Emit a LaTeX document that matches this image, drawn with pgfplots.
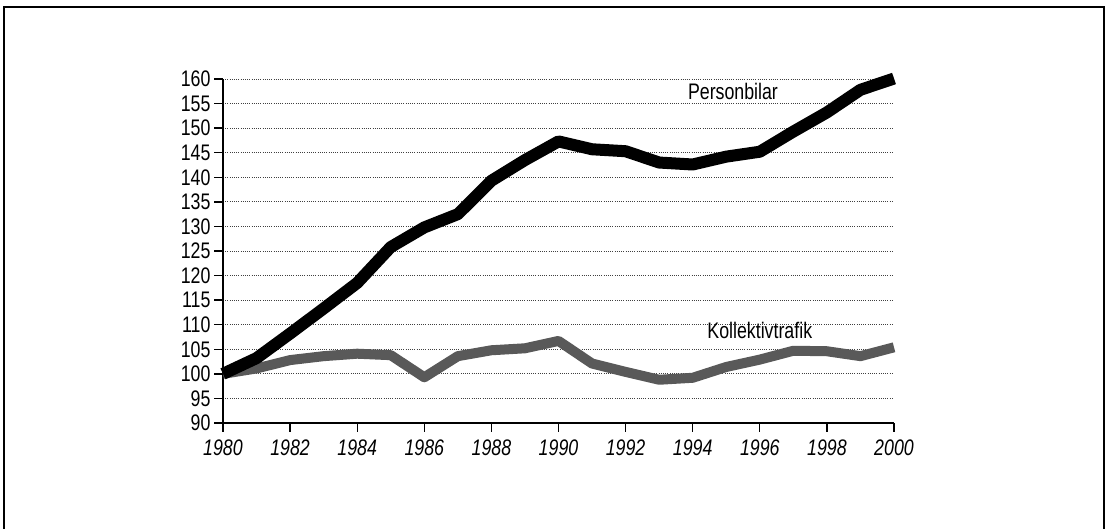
\documentclass[border=0pt]{standalone}
\usepackage{fontspec}
\setmainfont{Liberation Sans}[FakeStretch=0.79]
\usepackage{pgfplots}
\pgfplotsset{compat=1.18}
\begin{document}
\begin{tikzpicture}[x=1pt,y=1pt,font=\fontsize{22.5}{27}\selectfont]
\path[use as bounding box] (0,0) rectangle (1108,529);
\draw[line width=1.6pt] (4,0) -- (4,522) -- (1104,522) -- (1104,0);
\begin{axis}[
  at={(223pt,106pt)}, anchor=south west,
  scale only axis, width=671pt, height=344pt,
  xmin=1980, xmax=2000, ymin=90, ymax=160,
  axis x line=bottom, axis y line=left,
  axis line style={-, line width=1.3pt},
  xtick={1980,1982,...,2000},
  ytick={90,95,...,160},
  tick align=outside,
  major tick length=9pt,
  tick style={line width=1.3pt, black},
  /pgf/number format/assume math mode=true,
  /pgf/number format/1000 sep={},
  xticklabel style={font=\fontsize{22.5}{27}\selectfont\itshape, yshift=-4pt},
  yticklabel style={font=\fontsize{22.5}{27}\selectfont},
  ymajorgrids,
  grid style={line width=0.9pt, black!75, dash pattern=on 1pt off 1.2pt},
  clip=false,
]
\addplot[black!65, line width=10pt, line join=round] coordinates {
(1980,100) (1981,101.1) (1982,102.8) (1983,103.6) (1984,104.1) (1985,103.8)
(1986,99.3) (1987,103.6) (1988,104.8) (1989,105.2) (1990,106.7) (1991,102.1)
(1992,100.4) (1993,98.8) (1994,99.2) (1995,101.4) (1996,102.9) (1997,104.7)
(1998,104.6) (1999,103.6) (2000,105.4)
};
\addplot[black, line width=12pt, line join=round] coordinates {
(1980,100) (1981,103.2) (1982,108.2) (1983,113.3) (1984,118.5) (1985,125.8)
(1986,129.8) (1987,132.5) (1988,139.3) (1989,143.5) (1990,147.3) (1991,145.7)
(1992,145.3) (1993,143) (1994,142.6) (1995,144.2) (1996,145.2) (1997,149.3)
(1998,153.2) (1999,157.8) (2000,160.1)
};
\node at (axis cs:1995.2,157.4) {Personbilar};
\node at (axis cs:1996,108.9) {Kollektivtrafik};
\end{axis}
\end{tikzpicture}
\end{document}
